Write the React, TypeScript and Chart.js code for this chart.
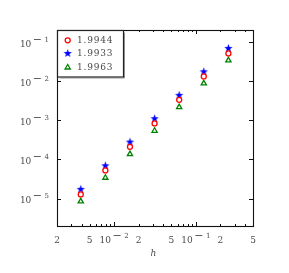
import { useEffect, useRef } from "react";
import { Chart, registerables } from "chart.js";

Chart.register(...registerables);

const hValues = [1 / 256, 1 / 128, 1 / 64, 1 / 32, 1 / 16, 1 / 8, 1 / 4];
const seriesA = [1.28e-5, 5.24e-5, 2.09e-4, 8.28e-4, 3.31e-3, 1.31e-2, 5.06e-2];
const seriesB = [1.72e-5, 6.87e-5, 2.76e-4, 1.09e-3, 4.3e-3, 1.72e-2, 6.79e-2];
const seriesC = [8.5e-6, 3.4e-5, 1.36e-4, 5.37e-4, 2.16e-3, 8.69e-3, 3.36e-2];
const seriesLabels = ["1.9944", "1.9933", "1.9963"];
const seriesColors = ["#ff0000", "#0000ff", "#008000"];

const xMin = 0.002;
const xMax = 0.5;
const yMin = 2e-6;
const yMax = 0.2;

const xTickValues = [0.002, 0.005, 0.01, 0.02, 0.05, 0.1, 0.2, 0.5];
const xTickLabels = ["2", "5", "10^-2", "2", "5", "10^-1", "2", "5"];
const xMajorTicks = [0.01, 0.1];
const yTickValues = [1e-1, 1e-2, 1e-3, 1e-4, 1e-5];
const yTickLabels = ["10^-1", "10^-2", "10^-3", "10^-4", "10^-5"];
const xAxisTitle = "h";

const FONT = "DejaVu Serif";
const TEXT_COLOR = "#4a4a4a";

function makeStar(color: string, R: number, r: number) {
  const s = Math.ceil(R * 2 + 2);
  const c = document.createElement("canvas");
  c.width = s;
  c.height = s;
  const g = c.getContext("2d")!;
  g.beginPath();
  for (let i = 0; i < 10; i++) {
    const a = -Math.PI / 2 + (i * Math.PI) / 5;
    const rad = i % 2 === 0 ? R : r;
    const px = s / 2 + rad * Math.cos(a);
    const py = s / 2 + rad * Math.sin(a);
    if (i === 0) g.moveTo(px, py);
    else g.lineTo(px, py);
  }
  g.closePath();
  g.fillStyle = color;
  g.fill();
  return c;
}

function measureLabel(ctx: CanvasRenderingContext2D, label: string) {
  if (!label.startsWith("10^")) {
    ctx.font = `9px ${FONT}`;
    return ctx.measureText(label).width;
  }
  const exp = label.slice(3);
  ctx.font = `9px ${FONT}`;
  const wb = ctx.measureText("10").width;
  ctx.font = `11px ${FONT}`;
  const wm = exp.startsWith("-") ? ctx.measureText("\u2212").width : 0;
  ctx.font = `7px ${FONT}`;
  const wd = ctx.measureText(exp.replace("-", "")).width;
  return wb + 1.5 + wm + 2.5 + wd;
}

function drawLabel(ctx: CanvasRenderingContext2D, label: string, left: number, cy: number) {
  ctx.textAlign = "left";
  ctx.textBaseline = "middle";
  ctx.fillStyle = TEXT_COLOR;
  if (!label.startsWith("10^")) {
    ctx.font = `9px ${FONT}`;
    ctx.fillText(label, left, cy);
    return;
  }
  const exp = label.slice(3);
  ctx.font = `9px ${FONT}`;
  ctx.fillText("10", left, cy);
  let x = left + ctx.measureText("10").width + 1.5;
  const ey = cy - 4.5;
  if (exp.startsWith("-")) {
    ctx.font = `11px ${FONT}`;
    ctx.fillText("\u2212", x, ey);
    x += ctx.measureText("\u2212").width + 2.5;
  }
  ctx.font = `7px ${FONT}`;
  ctx.fillText(exp.replace("-", ""), x, ey);
}

const framePlugin = {
  id: "frameTicks",
  beforeDatasetsDraw(chart: any) {
    const ctx: CanvasRenderingContext2D = chart.ctx;
    const xs = chart.scales.x;
    const ys = chart.scales.y;
    const { left, right, top, bottom } = chart.chartArea;
    ctx.save();
    ctx.strokeStyle = "#111";
    ctx.lineWidth = 1;
    // x ticks (major + minor), bottom and top, inward
    const decades = [0.001, 0.01, 0.1];
    ctx.beginPath();
    for (const d of decades) {
      for (let k = 1; k <= 9; k++) {
        const v = d * k;
        if (v < xMin * 0.999 || v > xMax * 1.001) continue;
        const px = Math.round(xs.getPixelForValue(v)) + 0.5;
        const major = xMajorTicks.some((m) => Math.abs(m - v) < 1e-9);
        const len = major ? 4 : 2;
        ctx.moveTo(px, bottom);
        ctx.lineTo(px, bottom - len);
        ctx.moveTo(px, top);
        ctx.lineTo(px, top + len);
      }
    }
    for (const v of yTickValues) {
      const py = Math.round(ys.getPixelForValue(v)) + 0.5;
      ctx.moveTo(left, py);
      ctx.lineTo(left + 4, py);
      ctx.moveTo(right, py);
      ctx.lineTo(right - 4, py);
    }
    ctx.stroke();
    ctx.lineWidth = 1.1;
    ctx.strokeRect(Math.round(left) + 0.5, Math.round(top) + 0.5, Math.round(right - left), Math.round(bottom - top));

    // tick labels
    xTickValues.forEach((v, i) => {
      const px = xs.getPixelForValue(v);
      const w = measureLabel(ctx, xTickLabels[i]);
      drawLabel(ctx, xTickLabels[i], px - w / 2, bottom + 14.5);
    });
    yTickValues.forEach((v, i) => {
      const py = ys.getPixelForValue(v);
      const w = measureLabel(ctx, yTickLabels[i]);
      drawLabel(ctx, yTickLabels[i], left - 8 - w, py + 2.5);
    });
    // axis title
    ctx.font = `italic 9px ${FONT}`;
    ctx.textAlign = "center";
    ctx.textBaseline = "middle";
    ctx.fillStyle = TEXT_COLOR;
    ctx.fillText(xAxisTitle, (left + right) / 2 - 1.5, bottom + 27.5);
    ctx.restore();
  },
  afterDraw(chart: any) {
    const ctx: CanvasRenderingContext2D = chart.ctx;
    const { left, top } = chart.chartArea;
    const bx = Math.round(left) + 0.5;
    const by = Math.round(top) + 0.5;
    const bw = 66;
    const bh = 46.5;
    ctx.save();
    ctx.fillStyle = "#ffffff";
    ctx.fillRect(bx, by, bw, bh);
    ctx.strokeStyle = "#222";
    ctx.lineWidth = 1.2;
    ctx.strokeRect(bx, by, bw, bh);
    ctx.strokeStyle = "rgba(80,80,80,0.6)";
    ctx.lineWidth = 1;
    ctx.beginPath();
    ctx.moveTo(bx + bw + 1, by + 2);
    ctx.lineTo(bx + bw + 1, by + bh + 1);
    ctx.lineTo(bx + 2, by + bh + 1);
    ctx.stroke();
    const rows = [by + 9.8, by + 23, by + 37];
    const mx = bx + 10.2;
    rows.forEach((ry, i) => {
      ctx.lineWidth = 1.3;
      if (i === 0) {
        ctx.beginPath();
        ctx.arc(mx, ry, 2.5, 0, Math.PI * 2);
        ctx.fillStyle = "#fff";
        ctx.fill();
        ctx.strokeStyle = seriesColors[0];
        ctx.stroke();
      } else if (i === 1) {
        const img = starImage;
        ctx.drawImage(img, mx - img.width / 2, ry - img.height / 2);
      } else {
        const r = 3;
        ctx.beginPath();
        ctx.moveTo(mx, ry - r);
        ctx.lineTo(mx + r * 0.87, ry + r * 0.5);
        ctx.lineTo(mx - r * 0.87, ry + r * 0.5);
        ctx.closePath();
        ctx.fillStyle = "#fff";
        ctx.fill();
        ctx.strokeStyle = seriesColors[2];
        ctx.stroke();
      }
      ctx.font = `9px ${FONT}`;
      (ctx as any).letterSpacing = "0.8px";
      ctx.fillStyle = TEXT_COLOR;
      ctx.textAlign = "left";
      ctx.textBaseline = "middle";
      ctx.fillText(seriesLabels[i], bx + 19.5, ry + 0.5);
      (ctx as any).letterSpacing = "0px";
    });
    ctx.restore();
  },
};

let starImage: HTMLCanvasElement;

export default function App() {
  const ref = useRef<HTMLCanvasElement>(null);
  useEffect(() => {
    document.body.style.margin = "0";
    starImage = makeStar(seriesColors[1], 4.4, 1.8);
    const toPts = (s: number[]) => hValues.map((h, i) => ({ x: h, y: s[i] }));
    const chart = new Chart(ref.current!, {
      type: "scatter",
      data: {
        datasets: [
          {
            label: seriesLabels[0],
            data: toPts(seriesA),
            pointStyle: "circle",
            pointRadius: 2.5,
            borderColor: seriesColors[0],
            backgroundColor: "#ffffff",
            borderWidth: 1.3,
          },
          {
            label: seriesLabels[1],
            data: toPts(seriesB),
            pointStyle: starImage as any,
            pointRadius: 4,
            borderColor: seriesColors[1],
            backgroundColor: seriesColors[1],
          },
          {
            label: seriesLabels[2],
            data: toPts(seriesC),
            pointStyle: "triangle",
            pointRadius: 3,
            borderColor: seriesColors[2],
            backgroundColor: "#ffffff",
            borderWidth: 1.3,
          },
        ],
      },
      options: {
        responsive: false,
        animation: false,
        events: [],
        layout: { padding: { left: 57, right: 36, top: 30, bottom: 47 } },
        plugins: { legend: { display: false }, tooltip: { enabled: false } },
        scales: {
          x: { type: "logarithmic", min: xMin, max: xMax, display: false },
          y: { type: "logarithmic", min: yMin, max: yMax, display: false },
        },
      },
      plugins: [framePlugin],
    });
    return () => chart.destroy();
  }, []);
  return (
    <div style={{ width: 289, height: 273 }}>
      <canvas ref={ref} width={289} height={273} style={{ display: "block" }} />
    </div>
  );
}
